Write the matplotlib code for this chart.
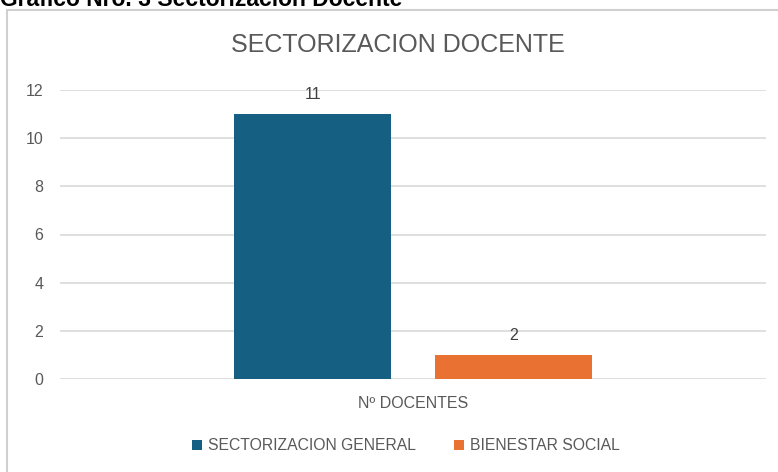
import matplotlib.pyplot as plt
from matplotlib.patches import Rectangle

# datos
categoria = "Nº DOCENTES"
series = ["SECTORIZACION GENERAL", "BIENESTAR SOCIAL"]
valores = [11, 1]
etiquetas = ["11", "2"]
colores = ["#156082", "#E97132"]

plt.rcParams['font.family'] = ['Liberation Sans', 'DejaVu Sans']

fig = plt.figure(figsize=(7.78, 4.72), dpi=100)

# marco del gráfico
fig.patches.append(Rectangle((7 / 778, -0.05), 1.0, 1 - 10 / 472 + 0.05,
                             transform=fig.transFigure, fill=False,
                             edgecolor="#d0d0d0", linewidth=1.5))

# encabezado (recortado arriba como en el original)
fig.text(0.0, 1.0, "Gráfico Nro. 3 Sectorización Docente", fontsize=16.5,
         fontweight="bold", ha="left", va="center", color="black")

ax = fig.add_axes([60 / 778, 1 - 379 / 472, (766 - 60) / 778, (379 - 90) / 472])

ancho = 0.222
desp = [-0.142, 0.142]
for i in range(len(series)):
    ax.bar(desp[i], valores[i], width=ancho, color=colores[i], label=series[i], zorder=3)
    ax.annotate(etiquetas[i], (desp[i], valores[i]), xytext=(0, 14),
                textcoords="offset points", ha="center", va="center",
                fontsize=11.5, color="#404040")

ax.set_xlim(-0.5, 0.5)
ax.set_ylim(0, 12)
ax.set_yticks(range(0, 13, 2))
ax.set_xticks([0])
ax.set_xticklabels([categoria])
ax.tick_params(axis="both", length=0, labelsize=11.5, labelcolor="#595959")
ax.tick_params(axis="y", pad=12)
ax.tick_params(axis="x", pad=12)
ax.grid(axis="y", color="#d9d9d9", linewidth=1.2, zorder=0)
for s in ax.spines.values():
    s.set_visible(False)

fig.text(398 / 778, 1 - 45 / 472, "SECTORIZACION DOCENTE", fontsize=18,
         color="#595959", ha="center", va="center")

fig.legend(loc="center", bbox_to_anchor=(0.522, 1 - 446 / 472), ncol=2, frameon=False,
           fontsize=11.3, labelcolor="#595959", handlelength=0.65, handleheight=0.65,
           handletextpad=0.4, columnspacing=2.4)

fig.savefig("out.png", dpi=100)
